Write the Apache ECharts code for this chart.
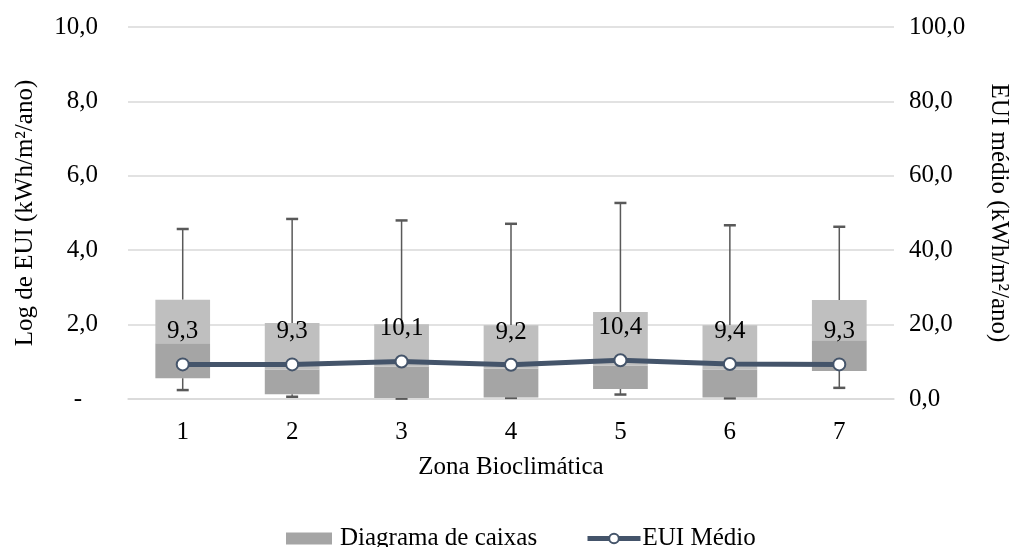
<!DOCTYPE html>
<html>
<head>
<meta charset="utf-8">
<script src="https://cdn.jsdelivr.net/npm/echarts@6/dist/echarts.min.js"></script>
<style>html,body{margin:0;padding:0;background:#fff;}#c{width:1019px;height:547px;}</style>
</head>
<body>
<div id="c"></div>
<script>
const categories = ['1','2','3','4','5','6','7'];
const whiskerMin = [0.24, 0.06, 0.01, 0.03, 0.12, 0.02, 0.30];
const q1 = [0.56, 0.13, 0.03, 0.04, 0.27, 0.04, 0.75];
const median = [1.50, 0.79, 0.87, 0.82, 0.90, 0.79, 1.58];
const q3 = [2.67, 2.04, 2.01, 1.98, 2.34, 1.98, 2.66];
const whiskerMax = [4.57, 4.84, 4.80, 4.71, 5.27, 4.67, 4.63];
const euiMean = [9.3, 9.3, 10.1, 9.2, 10.4, 9.4, 9.3];

const FONT = '"Liberation Serif", "Times New Roman", serif';
const FS = 25;
const fmt = v => v.toFixed(1).replace('.', ',');

const boxData = categories.map((c, i) => [i, whiskerMin[i], q1[i], median[i], q3[i], whiskerMax[i]]);

const chart = echarts.init(document.getElementById('c'), null, {renderer: 'canvas'});
chart.setOption({
  animation: false,
  textStyle: {fontFamily: FONT, color: '#000'},
  grid: {left: 128, right: 121, top: 27, bottom: 148},
  legend: [
    {
      left: 281, top: 521, itemWidth: 46, itemHeight: 12, itemGap: 6,
      textStyle: {fontFamily: FONT, fontSize: FS, color: '#000', padding: [0, 0, 0, 3]},
      data: [{name: 'Diagrama de caixas', icon: 'rect', itemStyle: {color: '#A5A5A5'}}]
    },
    {
      left: 580, top: 521, itemWidth: 53, itemHeight: 12, itemGap: 6,
      textStyle: {fontFamily: FONT, fontSize: FS, color: '#000', padding: [0, 0, 0, -3]},
      data: [{name: 'EUI Médio', lineStyle: {width: 5, color: '#44546A'}}]
    }
  ],
  xAxis: {
    type: 'category',
    data: categories,
    name: 'Zona Bioclimática',
    nameLocation: 'middle',
    nameGap: 56,
    nameTextStyle: {fontFamily: FONT, fontSize: FS, color: '#000'},
    axisLine: {show: true, lineStyle: {color: '#D9D9D9', width: 1.5}},
    axisTick: {show: false},
    axisLabel: {fontFamily: FONT, fontSize: FS, color: '#000', margin: 21}
  },
  yAxis: [
    {
      type: 'value', min: 0, max: 10, interval: 2,
      name: 'Log de EUI (kWh/m²/ano)',
      nameLocation: 'middle', nameGap: 90,
      nameTextStyle: {fontFamily: FONT, fontSize: FS, color: '#000'},
      axisLine: {show: false}, axisTick: {show: false},
      splitLine: {lineStyle: {color: '#D9D9D9', width: 1.5}},
      axisLabel: {fontFamily: FONT, fontSize: FS, color: '#000', margin: 30,
        formatter: v => v === 0 ? '{d|-}' : fmt(v),
        rich: {d: {fontFamily: FONT, fontSize: FS, color: '#000', padding: [0, 16, 0, 0]}}}
    },
    {
      type: 'value', min: 0, max: 100, interval: 20,
      name: 'EUI médio (kWh/m²/ano)',
      nameLocation: 'middle', nameGap: 92, nameRotate: -90,
      nameTextStyle: {fontFamily: FONT, fontSize: FS, color: '#000'},
      axisLine: {show: false}, axisTick: {show: false},
      splitLine: {show: false},
      axisLabel: {fontFamily: FONT, fontSize: FS, color: '#000', margin: 15,
        formatter: v => fmt(v)}
    }
  ],
  series: [
    {
      name: 'Diagrama de caixas',
      type: 'custom',
      yAxisIndex: 0,
      z: 2,
      itemStyle: {color: '#A5A5A5'},
      data: boxData,
      encode: {x: 0, y: [1, 2, 3, 4, 5]},
      renderItem: function (params, api) {
        const idx = api.value(0);
        const pMin = api.coord([idx, api.value(1)]);
        const pQ1 = api.coord([idx, api.value(2)]);
        const pMed = api.coord([idx, api.value(3)]);
        const pQ3 = api.coord([idx, api.value(4)]);
        const pMax = api.coord([idx, api.value(5)]);
        const w = api.size([1, 0])[0] * 0.5;
        const cx = pMed[0];
        const cap = 12;
        const vStyle = {stroke: '#595959', lineWidth: 1.5};
        const cStyle = {stroke: '#595959', lineWidth: 2.5};
        return {
          type: 'group',
          children: [
            {type: 'line', shape: {x1: cx, y1: pQ3[1], x2: cx, y2: pMax[1]}, style: vStyle},
            {type: 'line', shape: {x1: cx - cap / 2, y1: pMax[1], x2: cx + cap / 2, y2: pMax[1]}, style: cStyle},
            {type: 'line', shape: {x1: cx, y1: pQ1[1], x2: cx, y2: pMin[1]}, style: vStyle},
            {type: 'line', shape: {x1: cx - cap / 2, y1: pMin[1], x2: cx + cap / 2, y2: pMin[1]}, style: cStyle},
            {type: 'rect', shape: {x: cx - w / 2, y: pMed[1], width: w, height: pQ1[1] - pMed[1]}, style: {fill: '#A5A5A5'}},
            {type: 'rect', shape: {x: cx - w / 2, y: pQ3[1], width: w, height: pMed[1] - pQ3[1]}, style: {fill: '#BFBFBF'}}
          ]
        };
      }
    },
    {
      name: 'EUI Médio',
      type: 'line',
      yAxisIndex: 1,
      z: 3,
      data: euiMean,
      symbol: 'circle',
      symbolSize: 12,
      lineStyle: {color: '#44546A', width: 5},
      itemStyle: {color: '#FFFFFF', borderColor: '#44546A', borderWidth: 2},
      label: {
        show: true, position: 'top', distance: 13,
        fontFamily: FONT, fontSize: FS, color: '#000',
        formatter: p => fmt(p.value)
      }
    }
  ]
});
</script>
</body>
</html>
